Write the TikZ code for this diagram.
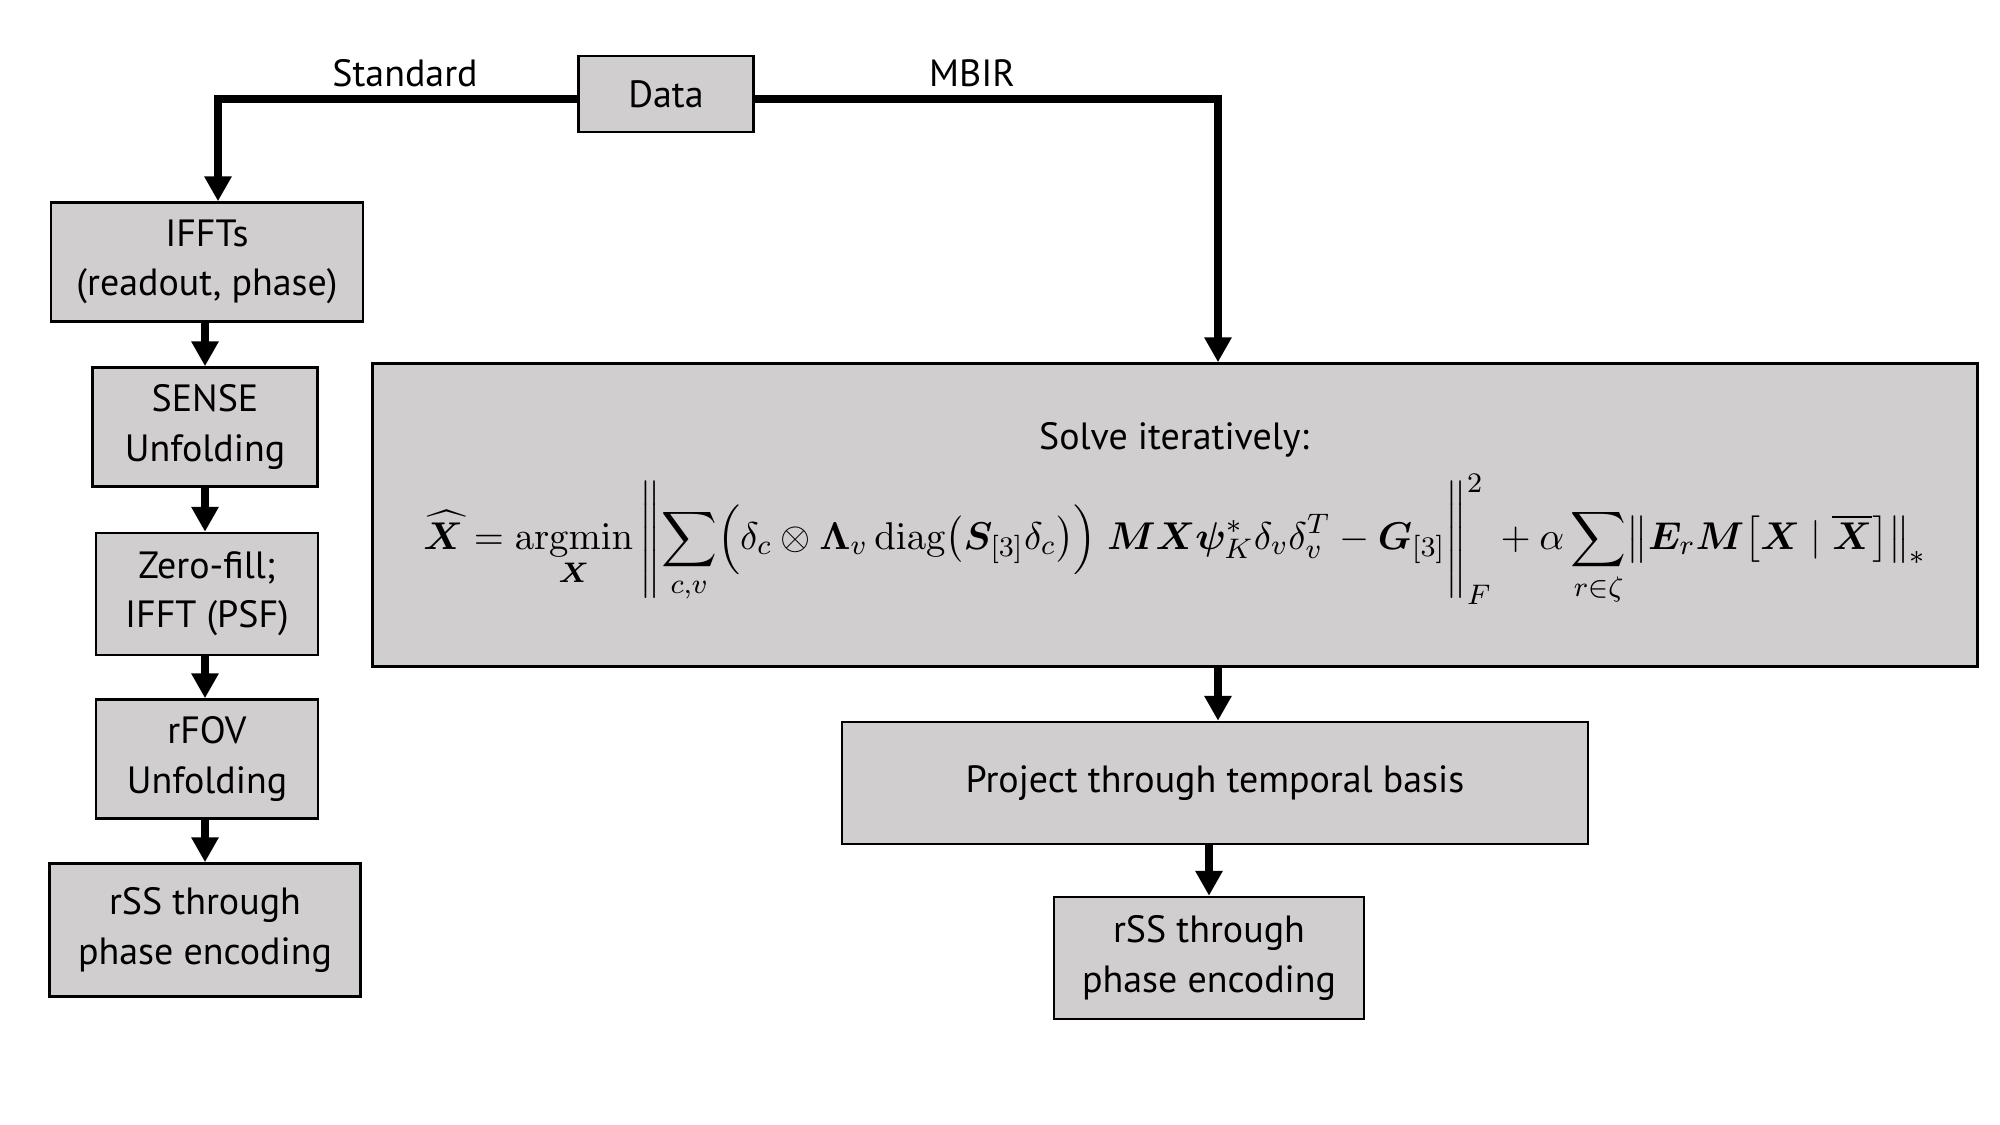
\documentclass[tikz,border=0pt]{standalone}
\usepackage{amsmath}
\usepackage{bm}
\usepackage{graphicx}
\usepackage[no-math]{fontspec}
\setmainfont{PT Sans}
\usetikzlibrary{arrows.meta,calc}
\definecolor{boxgray}{RGB}{208,206,206}
\begin{document}
\begin{tikzpicture}[x=0.1mm,y=-0.1mm,
  font=\fontsize{10.8}{14}\selectfont,
  box/.style={draw=black,line width=0.7pt,fill=boxgray,align=center,inner sep=0pt},
  arr/.style={line width=2pt,-{Triangle[length=2.5mm,width=2.6mm]}},
  lbl/.style={anchor=base,inner sep=0pt}]
\useasboundingbox (0,0) rectangle (2000,1125);

% boxes
\node[box,minimum width=17.5mm,minimum height=7.6mm] (data) at (666,94) {Data};
\node[box,minimum width=31.2mm,minimum height=11.9mm] (ifft) at (207,262) {IFFTs\\(readout, phase)};
\node[box,minimum width=22.5mm,minimum height=11.9mm] (sense) at (205,427) {SENSE\\Unfolding};
\node[box,minimum width=22.2mm,minimum height=12.2mm] (zero) at (207,594) {Zero-fill;\\IFFT (PSF)};
\node[box,minimum width=22.2mm,minimum height=11.9mm] (rfov) at (207,759) {rFOV\\Unfolding};
\node[box,minimum width=31.1mm,minimum height=13.3mm] (rssL) at (205,930) {rSS through\\phase encoding};
\node[box,minimum width=160.5mm,minimum height=30.3mm] (big) at (1175,515) {};
\node[box,minimum width=74.6mm,minimum height=12.2mm] (proj) at (1215,783) {Project through temporal basis};
\node[box,minimum width=31mm,minimum height=12.2mm] (rssR) at (1209,958) {rSS through\\phase encoding};

% text inside big box
\node[inner sep=0pt] (solve) at (1174,440) {Solve iteratively:};
\node[inner sep=0pt] (eq) at (1175,540) {\resizebox{150.3mm}{!}{$\displaystyle
 \widehat{\bm{X}} = \operatorname*{argmin}_{\bm{X}}
 \left\| \sum_{c,v} \Bigl(\delta_c \otimes \bm{\Lambda}_v \operatorname{diag}\bigl(\bm{S}_{[3]}\delta_c\bigr)\Bigr)\ \bm{M}\bm{X}\bm{\psi}_K^{*}\delta_v\delta_v^T - \bm{G}_{[3]} \right\|_F^2
 + \alpha \sum_{r\in\zeta} \bigl\| \bm{E}_r \bm{M} \bigl[\bm{X} \mid \overline{\bm{X}}\bigr]\bigr\|_*$}};

% labels
\node[lbl] (std) at (405,87) {Standard};
\node[lbl] (mbir) at (972,87) {MBIR};

% connectors
\draw[arr] ([yshift=-0.5mm]data.west) -| ([xshift=1.1mm]ifft.north);
\draw[arr] ([yshift=-0.5mm]data.east) -| ([xshift=4.3mm]big.north);
\draw[arr] (ifft.south -| 205,0) -- (sense.north -| 205,0);
\draw[arr] (sense.south -| 205,0) -- (zero.north -| 205,0);
\draw[arr] (zero.south -| 205,0) -- (rfov.north -| 205,0);
\draw[arr] (rfov.south -| 205,0) -- (rssL.north -| 205,0);
\draw[arr] (big.south -| 1218,0) -- (proj.north -| 1218,0);
\draw[arr] (proj.south -| rssR.north) -- (rssR.north);
\end{tikzpicture}
\end{document}
